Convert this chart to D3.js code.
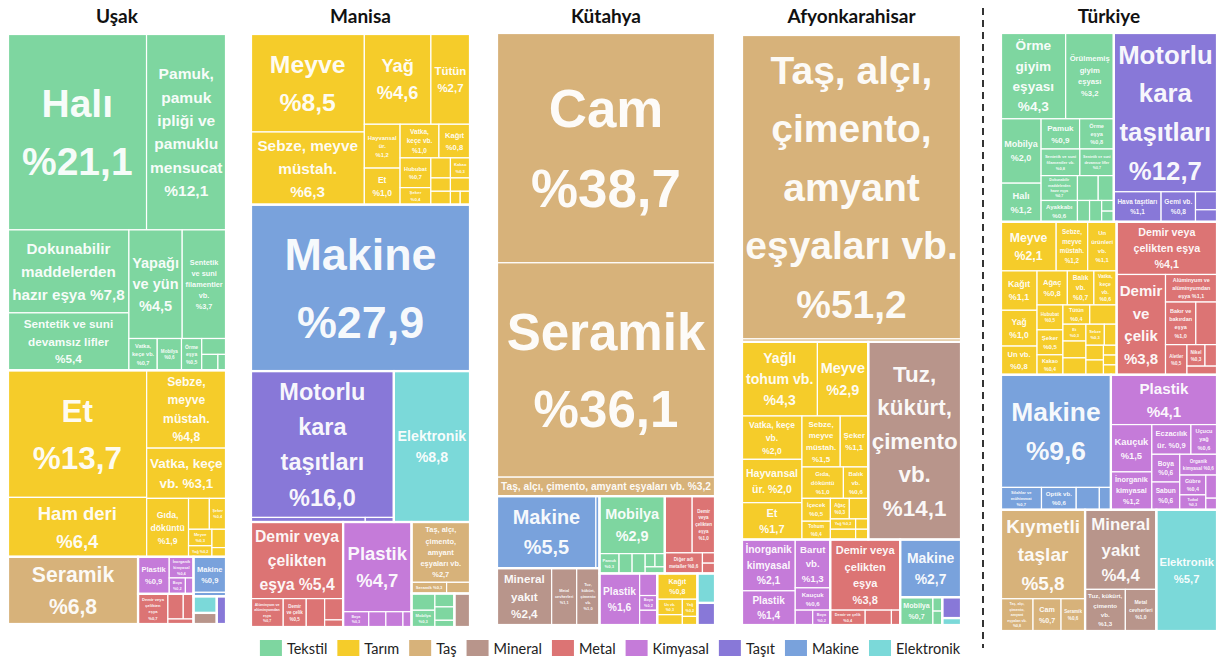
<!DOCTYPE html>
<html>
<head>
<meta charset="utf-8">
<script src="https://cdn.jsdelivr.net/npm/d3@7"></script>
<style>
  body { margin: 0; background: #fff; }
</style>
</head>
<body>
<div id="chart"></div>
<script>
// categories (legend order) and their colours
const categories = ['Tekstil', 'Tarım', 'Taş', 'Mineral', 'Metal', 'Kimyasal', 'Taşıt', 'Makine', 'Elektronik'];
const catColors = ['#7ed6a0', '#f5cc2a', '#d7b27a', '#b8958b', '#dc7474', '#c57bd9', '#8878d8', '#79a2dc', '#7bd9d9'];

const titles = ['Uşak', 'Manisa', 'Kütahya', 'Afyonkarahisar', 'Türkiye'];

// [category, product, share %]
const usak = [
  ['Tekstil', 'Halı', 21.1],
  ['Tekstil', 'Pamuk, pamuk ipliği ve pamuklu mensucat', 12.1],
  ['Tekstil', 'Dokunabilir maddelerden hazır eşya', 7.8],
  ['Tekstil', 'Sentetik ve suni devamsız lifler', 5.4],
  ['Tekstil', 'Yapağı ve yün', 4.5],
  ['Tekstil', 'Sentetik ve suni filamentler vb.', 3.7],
  ['Tekstil', 'Vatka, keçe vb.', 0.7],
  ['Tekstil', 'Mobilya', 0.6],
  ['Tekstil', 'Örme eşya', 0.5],
  ['Tekstil', 'Örme giyim eşyası', 0.3],
  ['Tekstil', 'Halat, ip', 0.2],
  ['Tekstil', 'Şapka', 0.1],
  ['Tarım', 'Et', 13.7],
  ['Tarım', 'Ham deri', 6.4],
  ['Tarım', 'Sebze, meyve müstah.', 4.8],
  ['Tarım', 'Vatka, keçe vb.', 3.1],
  ['Tarım', 'Gıda, döküntü', 1.9],
  ['Tarım', 'Hayvansal ür.', 0.5],
  ['Tarım', 'Şeker', 0.4],
  ['Tarım', 'Meyve', 0.3],
  ['Tarım', 'Yağ', 0.2],
  ['Tarım', 'Hububat', 0.2],
  ['Tarım', 'Kakao', 0.1],
  ['Taş', 'Seramik', 6.8],
  ['Kimyasal', 'Plastik', 0.9],
  ['Kimyasal', 'İnorganik kimyasal', 0.4],
  ['Kimyasal', 'Boya', 0.2],
  ['Kimyasal', 'Sabun', 0.1],
  ['Metal', 'Demir veya çelikten eşya', 0.7],
  ['Metal', 'Alüminyum', 0.3],
  ['Metal', 'Demir ve çelik', 0.2],
  ['Metal', 'Bakır', 0.1],
  ['Makine', 'Makine', 0.9],
  ['Makine', 'Optik vb.', 0.1],
  ['Elektronik', 'Elektronik', 0.3],
  ['Mineral', 'Mineral yakıt', 0.2],
  ['Taşıt', 'Motorlu kara taşıtları', 0.2]
];

const manisa = [
  ['Tarım', 'Meyve', 8.5],
  ['Tarım', 'Sebze, meyve müstah.', 6.3],
  ['Tarım', 'Yağ', 4.6],
  ['Tarım', 'Tütün', 2.7],
  ['Tarım', 'Hayvansal ür.', 1.2],
  ['Tarım', 'Et', 1.0],
  ['Tarım', 'Vatka, keçe vb.', 1.0],
  ['Tarım', 'Kağıt', 0.8],
  ['Tarım', 'Hububat', 0.7],
  ['Tarım', 'Şeker', 0.4],
  ['Tarım', 'Gıda, döküntü', 0.3],
  ['Tarım', 'Kakao', 0.3],
  ['Tarım', 'Un vb.', 0.2],
  ['Tarım', 'Balık vb.', 0.2],
  ['Tarım', 'Ağaç', 0.2],
  ['Tarım', 'İçecek', 0.1],
  ['Tarım', 'Ham deri', 0.1],
  ['Makine', 'Makine', 27.9],
  ['Taşıt', 'Motorlu kara taşıtları', 16.0],
  ['Taşıt', 'Hava taşıtları', 0.4],
  ['Taşıt', 'Gemi vb.', 0.1],
  ['Elektronik', 'Elektronik', 8.8],
  ['Metal', 'Demir veya çelikten eşya', 5.4],
  ['Metal', 'Alüminyum ve alüminyumdan eşya', 0.7],
  ['Metal', 'Demir ve çelik', 0.5],
  ['Metal', 'Bakır ve bakırdan eşya', 0.4],
  ['Metal', 'Adi metallerden eşya', 0.3],
  ['Metal', 'Çinko', 0.1],
  ['Kimyasal', 'Plastik', 4.7],
  ['Kimyasal', 'Boya', 0.3],
  ['Kimyasal', 'Kauçuk', 0.2],
  ['Kimyasal', 'Sabun', 0.2],
  ['Kimyasal', 'Eczacılık ür.', 0.1],
  ['Taş', 'Taş, alçı, çimento, amyant eşyaları vb.', 2.7],
  ['Taş', 'Seramik', 0.3],
  ['Taş', 'Cam', 0.2],
  ['Tekstil', 'Sentetik ve suni filamentler', 0.3],
  ['Tekstil', 'Mobilya', 0.3],
  ['Tekstil', 'Örme giyim eşyası', 0.2],
  ['Tekstil', 'Pamuk', 0.2],
  ['Tekstil', 'Halı', 0.1],
  ['Mineral', 'Tuz, kükürt, çimento vb.', 0.4]
];

const kutahya = [
  ['Taş', 'Cam', 38.7],
  ['Taş', 'Seramik', 36.1],
  ['Taş', 'Taş, alçı, çimento, amyant eşyaları vb.', 3.2],
  ['Makine', 'Makine', 5.5],
  ['Makine', 'Optik vb.', 0.2],
  ['Mineral', 'Mineral yakıt', 2.4],
  ['Mineral', 'Metal cevherleri', 1.1],
  ['Mineral', 'Tuz, kükürt, çimento vb.', 1.0],
  ['Tekstil', 'Mobilya', 2.9],
  ['Tekstil', 'Pamuk', 0.3],
  ['Tekstil', 'Örme giyim eşyası', 0.2],
  ['Tekstil', 'Halı', 0.2],
  ['Tekstil', 'Sentetik ve suni filamentler', 0.1],
  ['Tekstil', 'Örme eşya', 0.1],
  ['Tekstil', 'Vatka, keçe vb.', 0.1],
  ['Metal', 'Alüminyum ve alüminyumdan eşya', 1.2],
  ['Metal', 'Demir veya çelikten eşya', 1.0],
  ['Metal', 'Diğer adi metaller', 0.6],
  ['Metal', 'Demir ve çelik', 0.1],
  ['Metal', 'Bakır', 0.1],
  ['Kimyasal', 'Plastik', 1.6],
  ['Kimyasal', 'İnorganik kimyasal', 0.3],
  ['Kimyasal', 'Boya', 0.2],
  ['Kimyasal', 'Kauçuk', 0.2],
  ['Tarım', 'Kağıt', 0.8],
  ['Tarım', 'Un vb.', 0.3],
  ['Tarım', 'Meyve', 0.2],
  ['Tarım', 'Yağ', 0.2],
  ['Tarım', 'Şeker', 0.1],
  ['Elektronik', 'Elektronik', 0.4],
  ['Taşıt', 'Motorlu kara taşıtları', 0.3]
];

const afyon = [
  ['Taş', 'Taş, alçı, çimento, amyant eşyaları vb.', 51.2],
  ['Taş', 'Seramik', 0.5],
  ['Tarım', 'Yağlı tohum vb.', 4.3],
  ['Tarım', 'Meyve', 2.9],
  ['Tarım', 'Vatka, keçe vb.', 2.0],
  ['Tarım', 'Hayvansal ür.', 2.0],
  ['Tarım', 'Et', 1.7],
  ['Tarım', 'Sebze, meyve müstah.', 1.5],
  ['Tarım', 'Şeker', 1.1],
  ['Tarım', 'Gıda, döküntü', 1.0],
  ['Tarım', 'Balık vb.', 0.6],
  ['Tarım', 'İçecek', 0.5],
  ['Tarım', 'Tohum', 0.4],
  ['Tarım', 'Ağaç', 0.3],
  ['Tarım', 'Hububat', 0.3],
  ['Tarım', 'Yağ', 0.2],
  ['Tarım', 'Kakao', 0.2],
  ['Tarım', 'Un', 0.1],
  ['Tarım', 'Tütün', 0.1],
  ['Mineral', 'Tuz, kükürt, çimento vb.', 14.1],
  ['Kimyasal', 'İnorganik kimyasal', 2.1],
  ['Kimyasal', 'Plastik', 1.4],
  ['Kimyasal', 'Barut vb.', 1.3],
  ['Kimyasal', 'Kauçuk', 0.6],
  ['Kimyasal', 'Organik kimyasal', 0.2],
  ['Kimyasal', 'Boya', 0.2],
  ['Metal', 'Demir veya çelikten eşya', 3.8],
  ['Metal', 'Demir ve çelik', 0.4],
  ['Metal', 'Alüminyum ve alüminyumdan eşya', 0.3],
  ['Metal', 'Bakır', 0.1],
  ['Makine', 'Makine', 2.7],
  ['Tekstil', 'Mobilya', 0.7],
  ['Tekstil', 'Halı', 0.1],
  ['Tekstil', 'Pamuk', 0.1],
  ['Taşıt', 'Motorlu kara taşıtları', 0.3],
  ['Elektronik', 'Elektronik', 0.1]
];

const turkiye = [
  ['Tekstil', 'Örme giyim eşyası', 4.3],
  ['Tekstil', 'Örülmemiş giyim eşyası', 3.2],
  ['Tekstil', 'Mobilya', 2.0],
  ['Tekstil', 'Halı', 1.2],
  ['Tekstil', 'Pamuk', 0.9],
  ['Tekstil', 'Örme eşya', 0.8],
  ['Tekstil', 'Sentetik ve suni filamentler vb.', 0.8],
  ['Tekstil', 'Sentetik ve suni devamsız lifler', 0.7],
  ['Tekstil', 'Dokunabilir maddelerden hazır eşya', 0.7],
  ['Tekstil', 'Ayakkabı', 0.6],
  ['Tekstil', 'Vatka, keçe vb.', 0.4],
  ['Tekstil', 'Yapağı ve yün', 0.3],
  ['Tekstil', 'Halat, ip', 0.2],
  ['Tekstil', 'Şapka', 0.2],
  ['Tekstil', 'İpek', 0.1],
  ['Tekstil', 'Ham deri', 0.1],
  ['Taşıt', 'Motorlu kara taşıtları', 12.7],
  ['Taşıt', 'Hava taşıtları', 1.1],
  ['Taşıt', 'Gemi vb.', 0.8],
  ['Taşıt', 'Demiryolu taşıtları', 0.3],
  ['Taşıt', 'Bisiklet', 0.2],
  ['Tarım', 'Meyve', 2.1],
  ['Tarım', 'Sebze, meyve müstah.', 1.2],
  ['Tarım', 'Un ürünleri vb.', 1.1],
  ['Tarım', 'Kağıt', 1.1],
  ['Tarım', 'Yağ', 1.0],
  ['Tarım', 'Un vb.', 0.8],
  ['Tarım', 'Ağaç', 0.8],
  ['Tarım', 'Balık vb.', 0.7],
  ['Tarım', 'Vatka, keçe vb.', 0.6],
  ['Tarım', 'Hububat', 0.5],
  ['Tarım', 'Şeker', 0.5],
  ['Tarım', 'Kakao', 0.4],
  ['Tarım', 'Tütün', 0.4],
  ['Tarım', 'Gıda, döküntü', 0.4],
  ['Tarım', 'Et', 0.3],
  ['Tarım', 'Hayvansal ür.', 0.3],
  ['Tarım', 'Yağlı tohum vb.', 0.3],
  ['Tarım', 'Sebze', 0.3],
  ['Tarım', 'İçecek', 0.2],
  ['Tarım', 'Süt ürünleri', 0.2],
  ['Tarım', 'Kahve, çay', 0.2],
  ['Tarım', 'Kitap', 0.1],
  ['Tarım', 'Canlı hayvan', 0.1],
  ['Tarım', 'Kakao ür.', 0.1],
  ['Metal', 'Demir veya çelikten eşya', 4.1],
  ['Metal', 'Demir ve çelik', 3.8],
  ['Metal', 'Alüminyum ve alüminyumdan eşya', 1.1],
  ['Metal', 'Bakır ve bakırdan eşya', 1.0],
  ['Metal', 'Adi metallerden çeşitli eşya', 0.7],
  ['Metal', 'Aletler', 0.5],
  ['Metal', 'Nikel', 0.3],
  ['Metal', 'Çinko', 0.2],
  ['Metal', 'Kurşun', 0.2],
  ['Makine', 'Makine', 9.6],
  ['Makine', 'Silahlar ve mühimmat', 0.7],
  ['Makine', 'Optik vb.', 0.6],
  ['Makine', 'Çeşitli mamul eşya', 0.4],
  ['Makine', 'Saatler', 0.2],
  ['Kimyasal', 'Plastik', 4.1],
  ['Kimyasal', 'Kauçuk', 1.5],
  ['Kimyasal', 'İnorganik kimyasal', 1.2],
  ['Kimyasal', 'Eczacılık ür.', 0.9],
  ['Kimyasal', 'Uçucu yağ', 0.6],
  ['Kimyasal', 'Boya', 0.6],
  ['Kimyasal', 'Sabun', 0.6],
  ['Kimyasal', 'Organik kimyasal', 0.6],
  ['Kimyasal', 'Gübre', 0.4],
  ['Kimyasal', 'Tutkal', 0.3],
  ['Kimyasal', 'Barut vb.', 0.2],
  ['Kimyasal', 'Fotoğraf ür.', 0.1],
  ['Taş', 'Kıymetli taşlar', 5.8],
  ['Taş', 'Taş, alçı, çimento, amyant eşyaları vb.', 0.8],
  ['Taş', 'Cam', 0.7],
  ['Taş', 'Seramik', 0.6],
  ['Mineral', 'Mineral yakıt', 4.4],
  ['Mineral', 'Tuz, kükürt, çimento vb.', 1.3],
  ['Mineral', 'Metal cevherleri', 1.0],
  ['Elektronik', 'Elektronik', 5.7]
];

const regions = [usak, manisa, kutahya, afyon, turkiye];

// panel layout (pixels)
const width = 1219, height = 659;
const panelX = [8, 251, 497, 742, 1001];
const panelW = [218, 219, 218, 219, 216];
const panelTop = [34, 34, 33, 35, 33];
const panelBottom = [624, 627, 625, 625, 631];
const panelRatio = [1.3, 1.3, 1.3, 1.3, 1];
const labelFont = '"Liberation Sans", Arial, sans-serif';
const uiFont = 'Lato, "Open Sans", sans-serif';

const color = d3.scaleOrdinal(categories, catColors);
const fmt = v => '%' + v.toFixed(1).replace('.', ',');

const svg = d3.select('#chart').append('svg')
  .attr('width', width)
  .attr('height', height);

const ctx = document.createElement('canvas').getContext('2d');
const measure = (s, fs) => {
  ctx.font = `bold ${fs}px ${labelFont}`;
  return ctx.measureText(s).width;
};

// greedy word wrap, returns lines
function wrap(words, fs, maxW) {
  const lines = [];
  let cur = '';
  words.forEach(w => {
    const t = cur ? cur + ' ' + w : w;
    if (!cur || measure(t, fs) <= maxW) cur = t;
    else { lines.push(cur); cur = w; }
  });
  if (cur) lines.push(cur);
  return lines;
}

const LH = 1.5;
function fits(lines, fs, w, h, pad) {
  const widest = d3.max(lines, l => measure(l, fs));
  return widest <= w - 2 * pad && lines.length * fs * LH <= h - pad;
}

// biggest font that fits; percentage on its own line unless that costs too much size
function fitLabel(name, value, w, h) {
  const words = name.split(' ');
  const pct = fmt(value);
  const pad = 3;
  const best = own => {
    for (let fs = Math.min(56, 8.5 * Math.sqrt(value)); fs >= 3.5; fs -= 0.5) {
      const lines = own ? wrap(words, fs, w - 2 * pad).concat([pct])
                        : wrap(words.concat([pct]), fs, w - 2 * pad);
      if (fits(lines, fs, w, h, pad)) return {fs, lines};
    }
    return null;
  };
  const a = best(true), b = best(false);
  if (a && (!b || a.fs >= 0.88 * b.fs)) return a;
  return b;
}

function drawPanel(items, i) {
  const w = panelW[i], h = panelBottom[i] - panelTop[i];
  const data = {
    name: titles[i],
    children: categories
      .map(c => ({name: c, children: items.filter(d => d[0] === c).map(d => ({name: d[1], value: d[2], cat: c}))}))
      .filter(g => g.children.length)
  };
  const root = d3.hierarchy(data)
    .sum(d => d.value || 0)
    .sort((a, b) => b.value - a.value);
  d3.treemap()
    .tile(d3.treemapSquarify.ratio(panelRatio[i]))
    .size([w, h])(root);

  const g = svg.append('g').attr('transform', `translate(${panelX[i]},${panelTop[i]})`);

  const leaf = g.selectAll('g.leaf')
    .data(root.leaves())
    .join('g')
    .attr('class', 'leaf');

  leaf.append('rect')
    .attr('x', d => d.x0)
    .attr('y', d => d.y0)
    .attr('width', d => Math.max(0, d.x1 - d.x0))
    .attr('height', d => Math.max(0, d.y1 - d.y0))
    .attr('fill', d => color(d.data.cat))
    .attr('stroke', '#fff')
    .attr('stroke-width', 1.2);

  // group outlines
  g.selectAll('rect.grp')
    .data(root.children)
    .join('rect')
    .attr('class', 'grp')
    .attr('x', d => d.x0)
    .attr('y', d => d.y0)
    .attr('width', d => d.x1 - d.x0)
    .attr('height', d => d.y1 - d.y0)
    .attr('fill', 'none')
    .attr('stroke', '#fff')
    .attr('stroke-width', 2.2);

  leaf.each(function(d) {
    const cw = d.x1 - d.x0, ch = d.y1 - d.y0;
    const lab = fitLabel(d.data.name, d.data.value, cw, ch);
    if (!lab) return;
    const cx = (d.x0 + d.x1) / 2, cy = (d.y0 + d.y1) / 2;
    const lh = lab.fs * LH;
    const first = cy - (lab.lines.length * lh) / 2 + lh / 2 + lab.fs * 0.36;
    const t = d3.select(this).append('text')
      .attr('text-anchor', 'middle')
      .attr('font-family', labelFont)
      .attr('font-weight', 'bold')
      .attr('font-size', lab.fs)
      .attr('fill', '#fff')
      .attr('fill-opacity', 0.95);
    lab.lines.forEach((l, k) => {
      t.append('tspan').attr('x', cx).attr('y', first + k * lh).text(l);
    });
  });

  svg.append('text')
    .attr('x', panelX[i] + w / 2)
    .attr('y', 23)
    .attr('text-anchor', 'middle')
    .attr('font-family', uiFont)
    .attr('font-weight', 'bold')
    .attr('font-size', 19)
    .attr('fill', '#111')
    .text(titles[i]);
}

regions.forEach(drawPanel);

// separator before Türkiye
svg.append('line')
  .attr('x1', 983).attr('x2', 983)
  .attr('y1', 8).attr('y2', 648)
  .attr('stroke', '#333')
  .attr('stroke-width', 2)
  .attr('stroke-dasharray', '7,5');

// legend
const sw = 22, gap = 10, txtOff = 27, legFs = 14.5;
ctx.font = `${legFs}px ${uiFont}`;
const legWidths = categories.map(c => txtOff + ctx.measureText(c).width);
const total = d3.sum(legWidths) + gap * (categories.length - 1);
let lx = 610 - total / 2;
const legend = svg.append('g');
categories.forEach((c, k) => {
  legend.append('rect')
    .attr('x', lx).attr('y', 640)
    .attr('width', sw).attr('height', 16)
    .attr('fill', color(c));
  legend.append('text')
    .attr('x', lx + txtOff).attr('y', 654)
    .attr('font-family', uiFont)
    .attr('font-size', legFs)
    .attr('fill', '#222')
    .text(c);
  lx += legWidths[k] + gap;
});
</script>
</body>
</html>
